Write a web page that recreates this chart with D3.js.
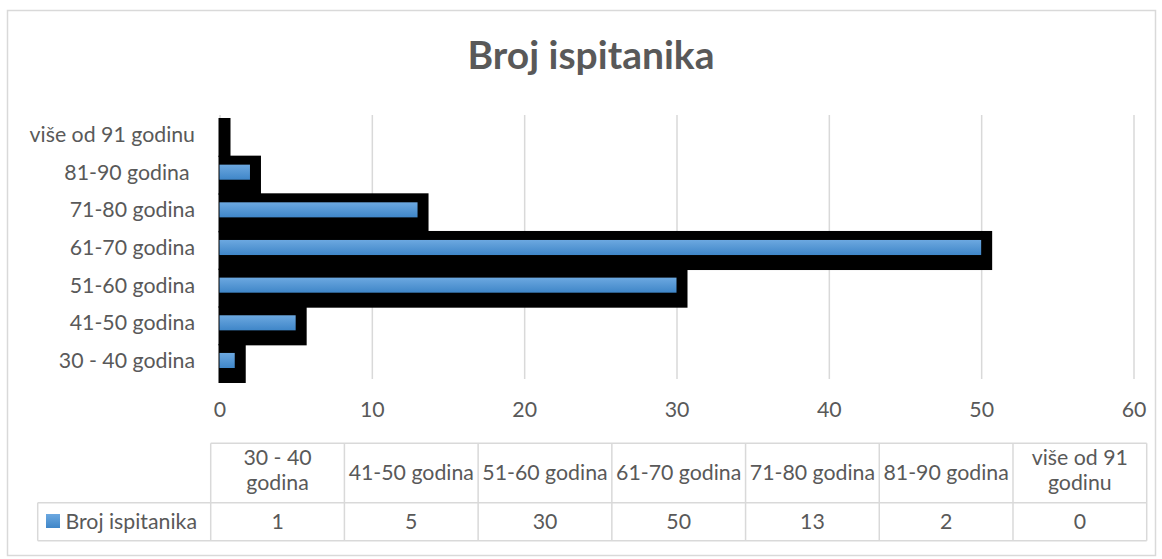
<!DOCTYPE html>
<html>
<head>
<meta charset="utf-8">
<script src="https://cdn.jsdelivr.net/npm/d3@7"></script>
<style>
  body { margin: 0; background: #fff; }
  text { font-family: Lato, "Open Sans", sans-serif; fill: #595959; }
</style>
</head>
<body>
<svg></svg>
<script>
const categories = ["30 - 40 godina", "41-50 godina", "51-60 godina", "61-70 godina", "71-80 godina", "81-90 godina ", "više od 91 godinu"];
const headerLines = [["30 - 40", "godina"], ["41-50 godina"], ["51-60 godina"], ["61-70 godina"], ["71-80 godina"], ["81-90 godina"], ["više od 91", "godinu"]];
const values = [1, 5, 30, 50, 13, 2, 0];
const xTicks = [0, 10, 20, 30, 40, 50, 60];
const seriesName = "Broj ispitanika";

const width = 1162;
const height = 559;
const fontSize = 21.3;

const svg = d3.select("svg")
  .attr("width", width)
  .attr("height", height);

const defs = svg.append("defs");
const grad = defs.append("linearGradient")
  .attr("id", "blue")
  .attr("x1", 0).attr("y1", 0).attr("x2", 0).attr("y2", 1);
grad.append("stop").attr("offset", "0%").attr("stop-color", "#6ca8e0");
grad.append("stop").attr("offset", "100%").attr("stop-color", "#3f86c8");

// outer chart border
svg.append("rect")
  .attr("x", 7.5).attr("y", 10.5)
  .attr("width", 1148).attr("height", 545)
  .attr("fill", "none")
  .attr("stroke", "#d9d9d9")
  .attr("stroke-width", 1.5);

svg.append("text")
  .attr("x", 591)
  .attr("y", 69)
  .attr("text-anchor", "middle")
  .style("font-size", "39px")
  .style("font-weight", "bold")
  .text(seriesName);

const xScale = d3.scaleLinear()
  .domain([0, 60])
  .range([219.5, 1133.5]);

const yScale = d3.scaleBand()
  .domain(categories.slice().reverse())
  .range([115.7, 379.3])
  .paddingInner(0.6)
  .paddingOuter(0.3);

// gridlines
const xAxis = d3.axisBottom(xScale)
  .tickValues(xTicks)
  .tickSize(-(379 - 115))
  .tickFormat(d3.format("d"));

const gx = svg.append("g")
  .attr("transform", "translate(0, 379)")
  .call(xAxis);
gx.select(".domain").remove();
gx.selectAll(".tick line")
  .attr("stroke", "#d9d9d9")
  .attr("stroke-width", 1.5);
gx.selectAll(".tick text")
  .attr("y", 38)
  .attr("dy", 0)
  .attr("fill", "#595959")
  .style("font-size", fontSize + "px")
  .style("font-family", "Lato, sans-serif");

// black shadows
svg.selectAll("rect.shadow")
  .data(values)
  .enter()
  .append("rect")
  .attr("class", "shadow")
  .attr("x", xScale(0) - 1)
  .attr("y", (d, i) => yScale(categories[i]) - 9)
  .attr("width", (d) => xScale(d) - xScale(0) + 12)
  .attr("height", yScale.bandwidth() + 24)
  .attr("fill", "#000");

// blue bars
svg.selectAll("rect.bar")
  .data(values)
  .enter()
  .append("rect")
  .attr("class", "bar")
  .attr("x", xScale(0))
  .attr("y", (d, i) => yScale(categories[i]))
  .attr("width", (d) => xScale(d) - xScale(0))
  .attr("height", yScale.bandwidth())
  .attr("fill", "url(#blue)");

// category labels
svg.selectAll("text.cat")
  .data(categories)
  .enter()
  .append("text")
  .attr("class", "cat")
  .attr("x", 195)
  .attr("y", (d) => yScale(d) + yScale.bandwidth() / 2 + 7.5)
  .attr("text-anchor", "end")
  .style("font-size", fontSize + "px")
  .style("white-space", "pre")
  .text((d) => d);

// data table
const tableLeft = 210.7;
const tableRight = 1146.7;
const rowTop = 443.3;
const rowMid = 502.7;
const rowBottom = 540.7;
const labelLeft = 37.7;

const colScale = d3.scaleBand()
  .domain(categories)
  .range([tableLeft, tableRight]);

const table = svg.append("g")
  .attr("stroke", "#d9d9d9")
  .attr("stroke-width", 1.5)
  .attr("fill", "none");

table.append("line").attr("x1", tableLeft).attr("x2", tableRight).attr("y1", rowTop).attr("y2", rowTop);
table.append("line").attr("x1", labelLeft).attr("x2", tableRight).attr("y1", rowMid).attr("y2", rowMid);
table.append("line").attr("x1", labelLeft).attr("x2", tableRight).attr("y1", rowBottom).attr("y2", rowBottom);
table.append("line").attr("x1", labelLeft).attr("x2", labelLeft).attr("y1", rowMid).attr("y2", rowBottom);
table.selectAll("line.col")
  .data(categories)
  .enter()
  .append("line")
  .attr("x1", (d) => colScale(d))
  .attr("x2", (d) => colScale(d))
  .attr("y1", rowTop)
  .attr("y2", rowBottom);
table.append("line").attr("x1", tableRight).attr("x2", tableRight).attr("y1", rowTop).attr("y2", rowBottom);

// header cells, one text per line
headerLines.forEach((lines, i) => {
  const cx = colScale(categories[i]) + colScale.bandwidth() / 2;
  const start = lines.length === 1 ? 480 : 464.5;
  svg.selectAll(null)
    .data(lines)
    .enter()
    .append("text")
    .attr("class", "head")
    .attr("x", cx)
    .attr("y", (l, j) => start + j * 25.8)
    .attr("text-anchor", "middle")
    .style("font-size", fontSize + "px")
    .text((l) => l);
});

svg.selectAll("text.val")
  .data(values)
  .enter()
  .append("text")
  .attr("class", "val")
  .attr("x", (d, i) => colScale(categories[i]) + colScale.bandwidth() / 2)
  .attr("y", 528.5)
  .attr("text-anchor", "middle")
  .style("font-size", fontSize + "px")
  .text((d) => d);

svg.append("rect")
  .attr("x", 46).attr("y", 514)
  .attr("width", 14).attr("height", 14)
  .attr("fill", "url(#blue)");

svg.append("text")
  .attr("x", 65.5)
  .attr("y", 528.5)
  .style("font-size", fontSize + "px")
  .text(seriesName);
</script>
</body>
</html>
